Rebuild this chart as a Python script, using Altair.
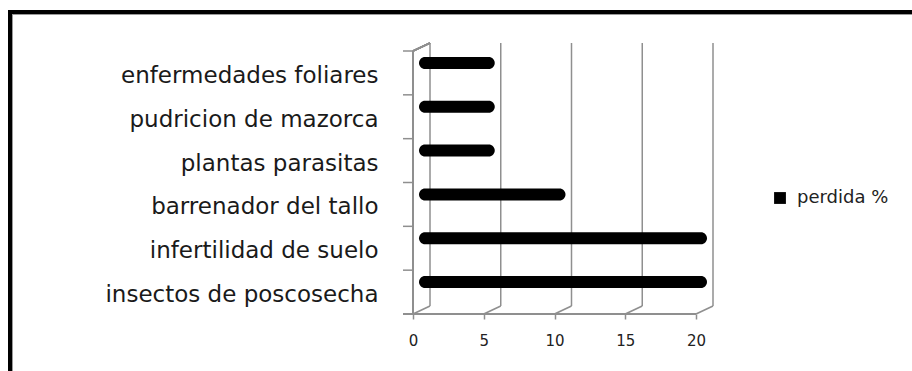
import altair as alt
import pandas as pd

# Pérdidas por causa (%)
categorias = [
    "enfermedades foliares",
    "pudricion de mazorca",
    "plantas parasitas",
    "barrenador del tallo",
    "infertilidad de suelo",
    "insectos de poscosecha",
]
perdida = [5, 5, 5, 10, 20, 20]
serie = "perdida %"
marcas_x = [0, 5, 10, 15, 20]

FONT = "DejaVu Sans"
GRID = "#8f8f8f"
W, H = 283, 263          # front face of the plot box
DX, DY = 17, -8          # depth offset of the back wall
BAND = H / len(categorias)

df = pd.DataFrame({"categoria": categorias, "perdida": perdida, "serie": serie})
df_x = pd.DataFrame({"t": marcas_x})

x_scale = alt.Scale(domain=[0, 20], nice=False, zero=True)
y_scale = alt.Scale(domain=categorias, paddingInner=0, paddingOuter=0)

x_axis = alt.Axis(
    title=None, values=marcas_x, domain=False, grid=False,
    tickSize=5, tickColor=GRID, tickWidth=1.5, labelFlush=False,
    labelFont=FONT, labelFontSize=15, labelColor="#222222", labelPadding=14,
)
y_axis = alt.Axis(
    title=None, domain=False, ticks=False, tickSize=0, grid=False,
    labelFont=FONT, labelFontSize=23, labelColor="#1a1a1a",
    labelPadding=35, labelLimit=500, labelOffset=3,
)

X = lambda f: alt.X(f, scale=x_scale, axis=x_axis)
Y = alt.Y("categoria:N", scale=y_scale, axis=y_axis, sort=categorias)

# outer frame (top and left edges)
frame_top = alt.Chart(df).mark_rule(color="#000000", strokeWidth=4).encode(
    x=alt.value(-405), x2=alt.value(W + 220), y=alt.value(-39)
)
frame_top_in = alt.Chart(df).mark_rule(color="#9a9a9a", strokeWidth=1).encode(
    x=alt.value(-401), x2=alt.value(W + 220), y=alt.value(-36.5)
)
frame_left = alt.Chart(df).mark_rule(color="#000000", strokeWidth=4).encode(
    x=alt.value(-403), y=alt.value(-41), y2=alt.value(H + 60)
)
frame_left_in = alt.Chart(df).mark_rule(color="#9a9a9a", strokeWidth=1).encode(
    x=alt.value(-400.5), y=alt.value(-37), y2=alt.value(H + 60)
)

# back wall gridlines
back_grid = alt.Chart(df_x).mark_rule(
    color=GRID, strokeWidth=1.5, xOffset=DX, yOffset=DY, y2Offset=DY
).encode(x=X("t:Q"), y=alt.value(0), y2=alt.value(H))

# floor diagonals joining front ticks to the back wall
floor_diag = alt.Chart(df_x).mark_rule(
    color=GRID, strokeWidth=1.5, x2Offset=DX
).encode(x=X("t:Q"), x2="t", y=alt.value(H), y2=alt.value(H + DY))

# front floor edge
floor_edge = alt.Chart(df).mark_rule(color=GRID, strokeWidth=1.5).encode(
    x=alt.value(-10), x2=alt.value(W), y=alt.value(H)
)

# left side wall: front edge and top diagonal
side_front = alt.Chart(df).mark_rule(color=GRID, strokeWidth=1.5).encode(
    x=alt.value(0), y=alt.value(0), y2=alt.value(H)
)
side_top = alt.Chart(df).mark_rule(color=GRID, strokeWidth=1.5).encode(
    x=alt.value(0), x2=alt.value(DX), y=alt.value(0), y2=alt.value(DY)
)

# category ticks at band boundaries
y_ticks = alt.Chart(df).mark_rule(
    color=GRID, strokeWidth=1.5, yOffset=-BAND / 2
).encode(y=Y, x=alt.value(-10), x2=alt.value(0))

bars = alt.Chart(df).mark_bar(
    size=12, cornerRadius=6, xOffset=11, x2Offset=6, yOffset=-10
).encode(
    x=X("perdida:Q"),
    x2=alt.datum(0),
    y=Y,
    color=alt.Color(
        "serie:N",
        scale=alt.Scale(domain=[serie], range=["#000000"]),
        legend=alt.Legend(
            title=None, orient="none", legendX=358, legendY=138, padding=0,
            symbolType="square", symbolSize=140, symbolStrokeWidth=0,
            labelFont=FONT, labelFontSize=18, labelColor="#222222",
            labelOffset=8,
        ),
    ),
)

chart = alt.layer(
    frame_top, frame_top_in, frame_left, frame_left_in,
    back_grid, floor_diag, floor_edge, side_front, side_top, y_ticks, bars,
).properties(
    width=W, height=H,
    autosize=alt.AutoSizeParams(type="none"),
    padding={"left": 413, "top": 51, "right": 216, "bottom": 57},
    background="#ffffff",
).configure_view(stroke=None)

chart.save("out.html", embed_options={"renderer": "svg", "actions": False})
